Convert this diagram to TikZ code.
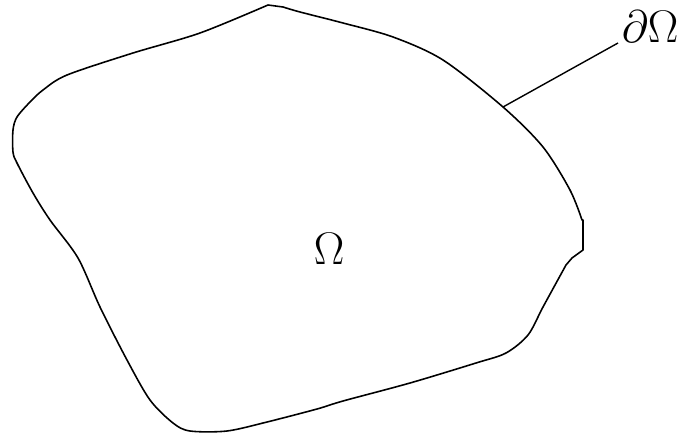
\documentclass[tikz,border=0pt]{standalone}
\usepackage{fix-cm}

\begin{document}
\begin{tikzpicture}[
    x=0.02cm, y=-0.02cm,
    every node/.style={inner sep=2pt, font=\fontsize{26}{30}\selectfont},
    boundary/.style={line width=0.9pt, line join=round},
    leader/.style={line width=0.8pt}
]

\useasboundingbox (0,0) rectangle (686,439);

% the domain
\draw[boundary] plot[smooth, tension=0.5] coordinates {(268,5) (200,33) (133,53) (67,75) (43,90) (30,102) (17,117) (13,130) (13,152) (17,163) (33,193) (50,220) (78,258) (100,307) (127,360) (150,400) (173,423) (190,431) (227,431) (267,422) (317,409) (343,401) (410,383) (476,363) (506,353) (528,335) (543,307) (566,265)}
    -- (572,258) -- (583,250) -- (583,220)
    -- plot[smooth, tension=0.5] coordinates {(582,220) (570,190) (543,147) (503,107) (443,60) (393,37) (343,23) (300,12) (283,7)}
    -- cycle;

\coordinate (bnd) at (503,107);

\node (omega) at (329,249) {$\Omega$};
\node (domega) [anchor=base west] at (618,43) {$\partial\Omega$};

\draw[leader] (bnd) -- (domega.base west);

\end{tikzpicture}
\end{document}
